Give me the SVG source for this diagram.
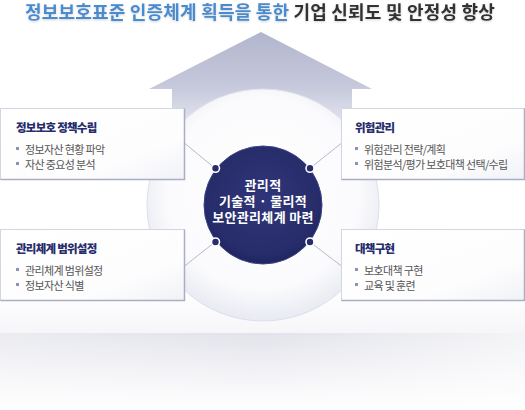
<svg xmlns="http://www.w3.org/2000/svg" width="525" height="410" viewBox="0 0 525 410">
<defs>
<linearGradient id="arrowG" x1="0" y1="33" x2="0" y2="140" gradientUnits="userSpaceOnUse">
<stop offset="0" stop-color="#b2b6cd"/>
<stop offset="0.5" stop-color="#c6c9dc"/>
<stop offset="1" stop-color="#eef0f6"/>
</linearGradient>
<radialGradient id="bigG" cx="0.5" cy="0.45" r="0.55">
<stop offset="0" stop-color="#ffffff"/>
<stop offset="0.75" stop-color="#fbfbfd"/>
<stop offset="1" stop-color="#e8eaf2"/>
</radialGradient>
<radialGradient id="darkG" cx="0.5" cy="0.45" r="0.55">
<stop offset="0" stop-color="#2f3579"/>
<stop offset="0.85" stop-color="#272d6a"/>
<stop offset="1" stop-color="#1f2560"/>
</radialGradient>
<linearGradient id="floorG" x1="0" y1="0" x2="0" y2="1">
<stop offset="0" stop-color="#e2e3ea"/>
<stop offset="0.5" stop-color="#f2f2f6"/>
<stop offset="1" stop-color="#ffffff"/>
</linearGradient>
<linearGradient id="floorH" x1="0" y1="0" x2="1" y2="0">
<stop offset="0" stop-color="#ffffff" stop-opacity="0.3"/>
<stop offset="0.5" stop-color="#ffffff" stop-opacity="0"/>
<stop offset="1" stop-color="#ffffff" stop-opacity="0.6"/>
</linearGradient>
<linearGradient id="upperG" x1="0" y1="0" x2="0" y2="1">
<stop offset="0" stop-color="#ffffff"/>
<stop offset="1" stop-color="#f6f6f9"/>
</linearGradient>
<linearGradient id="boxG" x1="0" y1="0" x2="1" y2="1">
<stop offset="0" stop-color="#ffffff"/>
<stop offset="0.7" stop-color="#fdfdfe"/>
<stop offset="1" stop-color="#f1f2f7"/>
</linearGradient>
<filter id="sh" x="-5%" y="-20%" width="110%" height="150%">
<feDropShadow dx="0" dy="1" stdDeviation="0.8" flood-color="#000" flood-opacity="0.18"/>
</filter>
</defs>
<style>
.box{fill:url(#boxG);stroke:#d3d6e1;stroke-width:1}
.edge{stroke:#a9aec4;stroke-width:1.5;fill:none}
.ttl{font-family:"Noto Sans CJK KR",sans-serif;font-size:11.5px;font-weight:900;fill:#262c6c;letter-spacing:-0.75px}
.itm{font-family:"Noto Sans CJK KR",sans-serif;font-size:11px;fill:#555555;letter-spacing:-0.65px}
.bul{fill:#8c92b2}
.ctr{font-family:"Noto Sans CJK KR",sans-serif;font-size:13px;font-weight:700;fill:#ffffff;letter-spacing:0.3px;text-anchor:middle}
.ln{stroke:#b6bace;stroke-width:1;fill:none}
.dot{fill:#262c6c;stroke:#ffffff;stroke-width:1.6}
</style>
<rect x="0" y="0" width="525" height="410" fill="#ffffff"/>
<rect x="0" y="290" width="525" height="43" fill="url(#upperG)"/>
<rect x="0" y="333" width="525" height="77" fill="url(#floorG)"/>
<rect x="0" y="333" width="525" height="77" fill="url(#floorH)"/>

<text x="260" y="18.5" text-anchor="middle" font-family="'Noto Sans CJK KR', sans-serif" font-size="18" font-weight="700" letter-spacing="0.2" filter="url(#sh)"><tspan fill="#4a8bce">정보보호표준 인증체계 획득을 통한</tspan><tspan fill="#333333"> 기업 신뢰도 및 안정성 향상</tspan></text>

<g id="arrow">
<polygon points="261,32 372,89 352,89 352,200 172,200 172,89 149,89" fill="url(#arrowG)"/>
</g>

<g id="ring">
<circle cx="263" cy="205" r="116" fill="url(#bigG)" stroke="#dde0ea" stroke-width="1"/>
</g>

<g id="connectors">
<line class="ln" x1="185" y1="143.5" x2="215" y2="168.3"/>
<line class="ln" x1="185" y1="265.7" x2="215" y2="242"/>
<line class="ln" x1="341" y1="143.5" x2="310" y2="168.3"/>
<line class="ln" x1="341" y1="265.7" x2="310" y2="242"/>
</g>

<g id="center">
<circle cx="263" cy="205" r="59" fill="url(#darkG)" stroke="#3d4388" stroke-width="1"/>
<text class="ctr" x="263" y="190">관리적</text>
<text class="ctr" x="263" y="206">기술적 · 물리적</text>
<text class="ctr" x="263" y="222">보안관리체계 마련</text>
</g>

<g id="dots">
<circle class="dot" cx="215.5" cy="168.3" r="4"/>
<circle class="dot" cx="310" cy="168.3" r="4"/>
<circle class="dot" cx="215.5" cy="242" r="4"/>
<circle class="dot" cx="310" cy="242" r="4"/>
</g>

<g id="box-policy">
<rect class="box" x="0.5" y="108.5" width="184" height="71"/>
<polyline class="edge" points="0.5,179.5 184.5,179.5 184.5,108.5"/>
<text class="ttl" x="16" y="132">정보보호 정책수립</text>
<rect class="bul" x="16" y="147" width="3" height="3"/>
<text class="itm" x="25" y="153.5">정보자산 현황 파악</text>
<rect class="bul" x="16" y="162" width="3" height="3"/>
<text class="itm" x="25" y="168.5">자산 중요성 분석</text>
</g>

<g id="box-scope">
<rect class="box" x="0.5" y="229.5" width="184" height="71"/>
<polyline class="edge" points="0.5,300.5 184.5,300.5 184.5,229.5"/>
<text class="ttl" x="16" y="253">관리체계 범위설정</text>
<rect class="bul" x="16" y="268" width="3" height="3"/>
<text class="itm" x="25" y="274.5">관리체계 범위설정</text>
<rect class="bul" x="16" y="283" width="3" height="3"/>
<text class="itm" x="25" y="289.5">정보자산 식별</text>
</g>

<g id="box-risk">
<rect class="box" x="341.5" y="108.5" width="183" height="71"/>
<polyline class="edge" points="341.5,179.5 524.5,179.5 524.5,108.5"/>
<text class="ttl" x="355" y="132">위험관리</text>
<rect class="bul" x="355" y="147" width="3" height="3"/>
<text class="itm" x="364" y="153.5">위험관리 전략/계획</text>
<rect class="bul" x="355" y="162" width="3" height="3"/>
<text class="itm" x="364" y="168.5">위험분석/평가 보호대책 선택/수립</text>
</g>

<g id="box-measure">
<rect class="box" x="341.5" y="229.5" width="183" height="71"/>
<polyline class="edge" points="341.5,300.5 524.5,300.5 524.5,229.5"/>
<text class="ttl" x="355" y="253">대책구현</text>
<rect class="bul" x="355" y="268" width="3" height="3"/>
<text class="itm" x="364" y="274.5">보호대책 구현</text>
<rect class="bul" x="355" y="283" width="3" height="3"/>
<text class="itm" x="364" y="289.5">교육 및 훈련</text>
</g>
</svg>
